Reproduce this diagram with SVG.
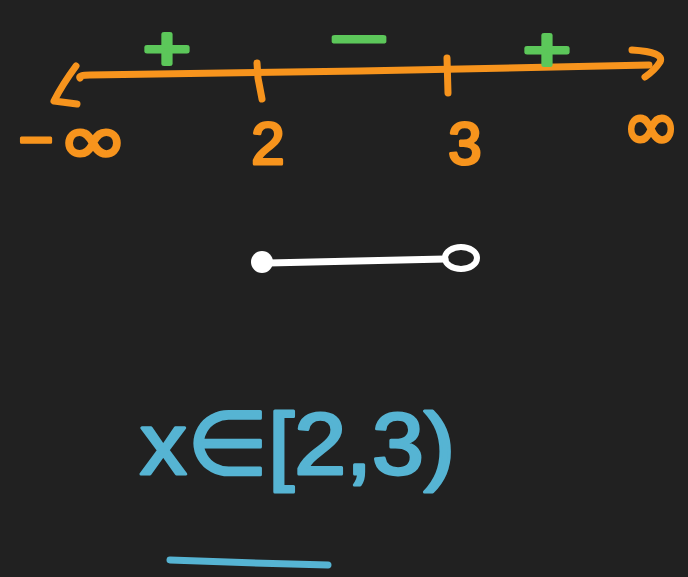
<svg xmlns="http://www.w3.org/2000/svg" width="688" height="577" viewBox="0 0 688 577">
<style>
.or{fill:none;stroke:#f7941d;stroke-width:7;stroke-linecap:round;stroke-linejoin:round}
.ot{fill:#f7941d;stroke:#f7941d;stroke-width:3;stroke-linejoin:round;font-family:"Liberation Sans",Arial,sans-serif;font-size:60px;text-anchor:middle}
.inf{fill:#f7941d;stroke:#f7941d;stroke-width:3;font-family:"DejaVu Sans",sans-serif;font-size:70px}
.gt{fill:#5cc75a;stroke:#5cc75a;stroke-width:4;stroke-linejoin:round;font-family:"Liberation Sans",Arial,sans-serif;font-size:62px}
.wl{fill:none;stroke:#ffffff;stroke-width:7;stroke-linecap:round}
.bt{fill:#56b4d3;stroke:#56b4d3;stroke-width:3;stroke-linejoin:round;font-family:"Liberation Sans",Arial,sans-serif;font-size:88px}
</style>
<rect width="688" height="577" fill="#212121"/>
<g id="number-line">
<path class="or" d="M80 78 Q78 75 90 75 L360 71 L649 65"/>
<path class="or" d="M76 66 Q62 85 54 101 L77 104"/>
<path class="or" d="M632 50 Q665 52 660 62 Q655 70 645 77"/>
<path class="or" d="M257 63 L258 78 L262 99"/>
<path class="or" d="M447 58 L448 93"/>
</g>
<g id="labels">
<text class="ot" x="36" y="160">−</text>
<text class="inf" x="58" y="164" textLength="70" lengthAdjust="spacingAndGlyphs">∞</text>
<text class="ot" x="268" y="164">2</text>
<text class="ot" x="465" y="164">3</text>
<text class="inf" x="622" y="150" textLength="58" lengthAdjust="spacingAndGlyphs">∞</text>
<text class="gt" x="143" y="69" textLength="48" lengthAdjust="spacingAndGlyphs">+</text>
<text class="gt" x="330" y="60" font-size="50" textLength="58" lengthAdjust="spacingAndGlyphs">−</text>
<text class="gt" x="523" y="70" textLength="48" lengthAdjust="spacingAndGlyphs">+</text>
</g>
<g id="interval">
<path class="wl" d="M268 263 L445 259"/>
<ellipse cx="262" cy="262" rx="11" ry="11" fill="#ffffff"/>
<ellipse cx="461" cy="258" rx="16" ry="11" fill="none" stroke="#ffffff" stroke-width="6"/>
</g>
<g id="answer">
<text class="bt" x="140" y="474" textLength="315" lengthAdjust="spacingAndGlyphs">x∈[2,3)</text>
<path d="M170 560 Q250 563 328 565" fill="none" stroke="#56b4d3" stroke-width="7" stroke-linecap="round"/>
</g>
</svg>
